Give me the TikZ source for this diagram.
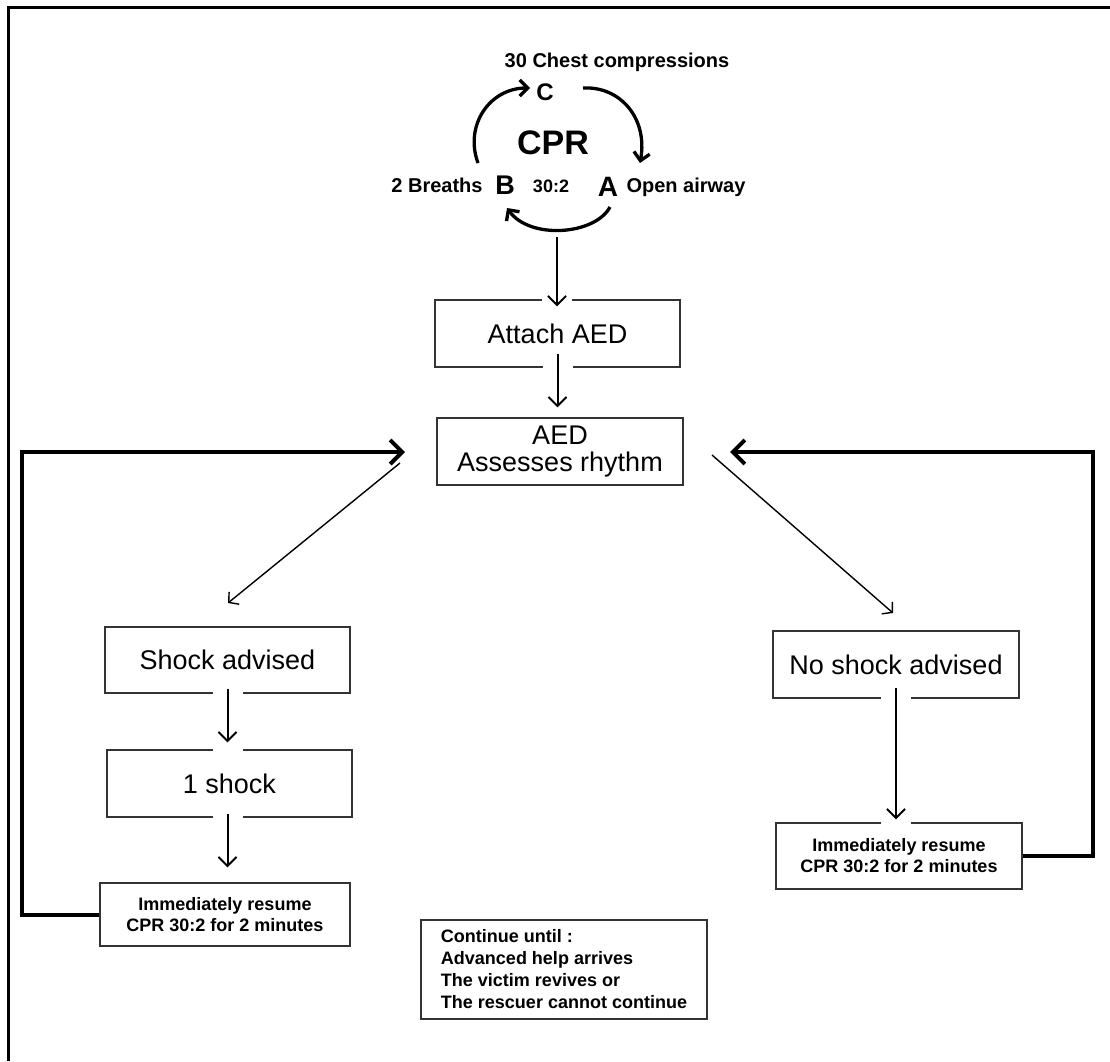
\documentclass[tikz,border=0pt]{standalone}
\usepackage{fontspec}
\setmainfont{Liberation Sans}
\usetikzlibrary{arrows.meta}
\begin{document}
\begin{tikzpicture}[x=1pt,y=-1pt,
  box/.style={draw=black!80, line width=1.3pt, inner sep=0pt, font=\fontsize{27}{27}\selectfont, align=center},
  sbox/.style={draw=black!80, line width=1.3pt, inner sep=0pt, font=\bfseries\fontsize{18}{21}\selectfont, align=center},
  lbl/.style={inner sep=0pt, anchor=base, font=\bfseries\fontsize{20}{24}\selectfont},
  vthin/.style={line width=2pt, -{Straight Barb[length=9pt,width=18pt]}},
  diag/.style={line width=1.4pt, -{Straight Barb[length=7pt,width=16pt]}},
  backarr/.style={line width=4pt, -{Straight Barb[length=12pt,width=24pt]}},
  cyc/.style={line width=3.3pt, -{Straight Barb[length=8pt,width=16pt]}},
  gap/.style={preaction={draw=white, line width=30pt, arrows=-, shorten >=#1}},
]
\useasboundingbox (0,0) rectangle (1110,1061);
% frame
\draw[line width=2.3pt] (8.5,1061) -- (8.5,7.5) -- (1110,7.5);

% CPR cycle labels
\node[lbl] (chest) at (617,67) {30 Chest compressions};
\node[lbl, font=\bfseries\fontsize{24}{26}\selectfont] (C) at (545,100) {C};
\node[lbl, font=\bfseries\fontsize{34}{36}\selectfont] (cpr) at (553,154) {CPR};
\node[lbl, font=\bfseries\fontsize{27}{28}\selectfont] (B) at (505,194) {B};
\node[lbl] (breaths) at (437,192) {2 Breaths};
\node[lbl, font=\bfseries\fontsize{18}{20}\selectfont] (ratio) at (551,192) {30:2};
\node[lbl, font=\bfseries\fontsize{28}{30}\selectfont] (A) at (608,196) {A};
\node[lbl] (airway) at (686,192) {Open airway};

% cycle arrows
\coordinate (bc0) at (478,163);
\coordinate (bc1) at (530,88);
\coordinate (ca0) at (583,88);
\coordinate (ca1) at (640,163);
\coordinate (ab0) at (610,207);
\coordinate (ab1) at (507,208);
\draw[cyc] (bc0) .. controls (464,125) and (490,88) .. (bc1);
\draw[cyc] (ca0) .. controls (620,86) and (648,118) .. (ca1);
\draw[cyc] (ab0) .. controls (595,235) and (530,240) .. (ab1);

% boxes
\node[box, minimum width=245pt, minimum height=67pt] (attach) at (557.5,333.5) {Attach AED};
\node[box, minimum width=246pt, minimum height=67pt] (aed) at (560,451.5) {AED\\Assesses rhythm};
\node[box, minimum width=245pt, minimum height=66pt] (shock) at (227.5,660) {Shock advised};
\node[box, minimum width=245pt, minimum height=67pt] (one) at (229.5,783.5) {1 shock};
\node[sbox, minimum width=250pt, minimum height=63pt] (limm) at (225,914.5) {Immediately resume\\CPR 30:2 for 2 minutes};
\node[box, minimum width=246pt, minimum height=67pt] (noshock) at (896,664.5) {No shock advised};
\node[sbox, minimum width=246pt, minimum height=66pt] (rimm) at (899,856) {Immediately resume\\CPR 30:2 for 2 minutes};
\node[sbox, minimum width=286pt, minimum height=99pt, align=left, font=\bfseries\fontsize{18}{22}\selectfont] (cont) at (564,969.5) {Continue until :\\Advanced help arrives\\The victim revives or\\The rescuer cannot continue};

% vertical arrows
\coordinate (cycout) at (557,237);
\draw[vthin, shorten >=-7pt, gap=-7pt] (cycout) -- (cycout |- attach.north);
\draw[vthin, shorten <=-14pt, shorten >=10pt, gap=10pt] (attach.south) -- (attach.south |- aed.north);
\draw[vthin, shorten <=-5pt, shorten >=7pt, gap=-4pt] (shock.south) -- (shock.south |- one.north);
\draw[vthin, shorten <=-4pt, shorten >=15pt, gap=15pt] (shock.south |- one.south) -- (shock.south |- limm.north);
\draw[vthin, shorten <=-11pt, shorten >=3pt, gap=-4pt] (noshock.south) -- (noshock.south |- rimm.north);

% diagonal arrows
\coordinate (dl0) at (400,463);
\coordinate (dl1) at (228,603);
\coordinate (dr0) at (712,455);
\coordinate (dr1) at (893,613);
\draw[diag] (dl0) -- (dl1);
\draw[diag] (dr0) -- (dr1);

% loop-back arrows
\coordinate (lin) at (405,452);
\coordinate (rin) at (730,452);
\draw[backarr] (limm.west) -- ++(-77,0) |- (lin);
\draw[backarr] (rimm.east) -- ++(70,0) |- (rin);
\end{tikzpicture}
\end{document}
